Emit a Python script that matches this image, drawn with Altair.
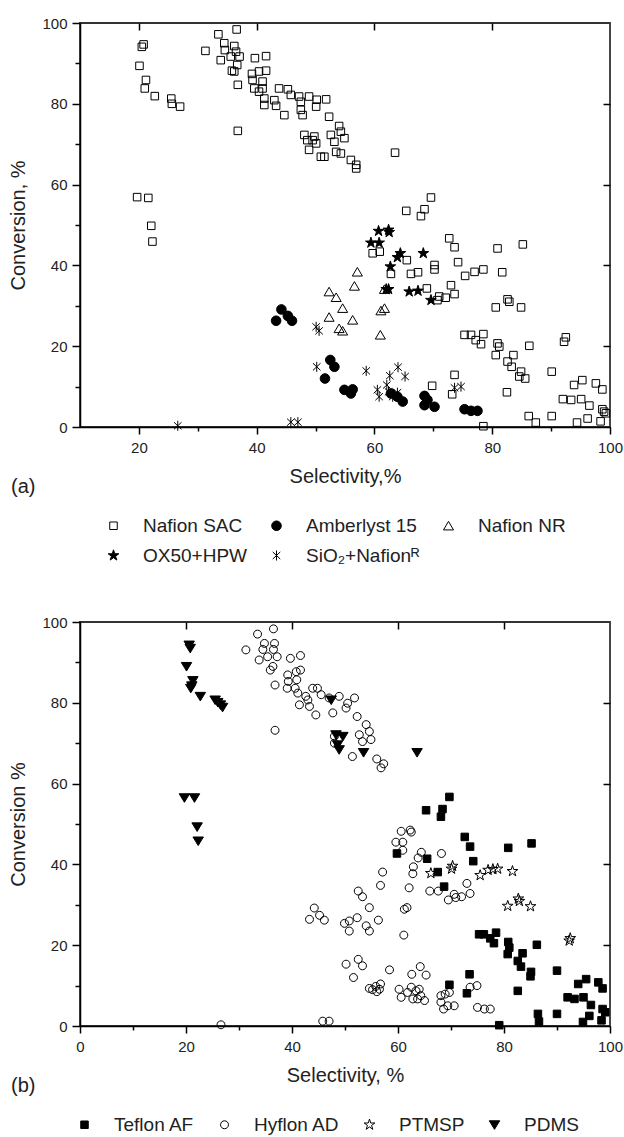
import altair as alt
import pandas as pd

FONT = "Liberation Sans"
TXT = "#222222"

# ---------------- panel (a) data ----------------
sac_x = [20.8, 20.5, 20.1, 21.2, 21.0, 22.7, 25.5, 25.6, 27.0, 19.7, 21.6, 22.1, 22.3,
         33.5, 36.6, 31.3, 34.5, 34.6, 36.2, 36.5, 33.9, 35.6, 37.1, 36.7, 35.8, 36.2, 36.8, 36.8,
         39.7, 41.6, 39.2, 39.3, 40.4, 41.6, 41.0, 39.6, 40.4, 41.0, 41.3, 41.3, 43.0, 43.3, 44.7,
         43.8, 45.3, 45.8, 47.2, 47.5, 47.5, 47.8, 48.9, 50.1, 50.2, 48.1, 48.6, 49.5, 48.9, 49.8,
         50.9, 51.8, 52.3, 54.0, 54.3, 54.9, 52.6, 53.2, 53.5, 54.3, 51.5, 50.1, 56.0, 56.9, 56.9,
         63.5, 69.6, 65.4, 68.5, 67.9, 72.7, 73.6, 80.9, 85.2, 74.2, 59.7, 60.9, 65.5, 70.2, 70.2,
         62.8, 66.2, 67.4, 75.4, 77.0, 78.5, 81.7, 68.9, 73.0, 73.6, 70.7, 72.1, 71.0, 82.6, 82.9,
         80.6, 84.9, 75.3, 76.4, 78.5, 77.2, 78.1, 80.9, 81.2, 80.6, 82.6, 83.3, 83.6, 84.9, 85.6,
         84.6, 86.3, 92.5, 92.2, 90.1, 73.6, 69.8, 73.2, 82.5, 93.9, 95.3, 97.6, 98.7, 92.0, 93.4,
         95.1, 96.5, 98.7, 99.0, 86.2, 87.4, 90.1, 94.4, 96.2, 98.4, 99.3, 78.5]
sac_y = [94.7, 94.1, 89.4, 85.9, 83.8, 81.9, 81.3, 80.0, 79.3, 56.9, 56.7, 49.8, 45.9,
         97.2, 98.4, 93.1, 95.0, 93.3, 94.3, 92.9, 90.8, 91.7, 91.7, 89.6, 88.2, 88.0, 84.7, 73.3,
         91.3, 91.8, 87.4, 85.9, 88.0, 88.2, 85.5, 83.8, 83.0, 83.8, 81.3, 79.7, 80.9, 79.5, 77.2,
         83.8, 83.6, 82.2, 81.8, 80.5, 78.5, 77.2, 81.8, 79.3, 81.0, 72.3, 71.0, 71.0, 68.6, 71.9,
         66.9, 81.1, 76.8, 74.5, 73.1, 71.5, 72.3, 70.6, 68.1, 67.7, 66.9, 70.2, 66.1, 64.9, 64.0,
         67.9, 56.8, 53.5, 53.9, 52.2, 46.7, 44.5, 44.2, 45.2, 40.8, 43.0, 43.4, 41.3, 40.1, 39.0,
         37.9, 37.9, 38.3, 37.4, 38.4, 39.0, 38.3, 34.3, 35.1, 32.9, 31.4, 32.0, 32.3, 31.6, 31.0,
         29.6, 29.6, 22.8, 22.8, 23.0, 21.5, 20.5, 20.7, 19.9, 17.8, 16.2, 14.9, 17.8, 13.7, 12.0,
         12.5, 20.1, 22.2, 21.1, 13.7, 12.9, 10.2, 8.1, 8.6, 10.4, 11.6, 10.8, 9.3, 6.9, 6.7,
         6.9, 5.3, 4.4, 3.8, 2.7, 1.1, 2.7, 1.1, 2.1, 1.4, 3.4, 0.2]

amb_x = [43.3, 44.2, 45.3, 46.0, 52.5, 53.2, 51.6, 54.9, 56.3, 56.0, 62.8, 63.9, 64.8,
         68.5, 69.0, 68.5, 70.2, 75.3, 76.4, 77.5]
amb_y = [26.3, 29.1, 27.5, 26.3, 16.6, 14.9, 12.0, 9.2, 9.3, 8.3, 8.3, 7.5, 6.3,
         7.7, 6.7, 5.4, 5.0, 4.4, 4.0, 4.0]

nr_x = [57.1, 56.6, 52.3, 53.5, 54.6, 52.3, 56.3, 54.0, 54.6, 61.0, 61.7, 61.1, 61.7]
nr_y = [38.4, 34.9, 33.5, 32.1, 29.4, 27.2, 26.5, 24.4, 23.8, 22.8, 29.4, 28.8, 34.1]

ox_x = [60.7, 62.4, 62.5, 59.4, 60.8, 64.4, 63.9, 68.3, 62.7, 62.0, 62.4, 65.9, 67.4, 69.6]
ox_y = [48.5, 48.8, 48.2, 45.6, 45.6, 43.0, 42.0, 43.0, 39.7, 34.1, 34.1, 33.5, 33.7, 31.4]

sio_x = [26.6, 45.8, 47.0, 50.1, 50.6, 50.2, 58.6, 64.0, 62.6, 65.2, 60.5, 60.8, 62.4,
         63.1, 63.9, 62.1, 73.6, 74.7]
sio_y = [0.3, 1.2, 1.2, 24.8, 23.8, 14.9, 13.9, 14.8, 12.7, 12.5, 9.2, 7.5, 8.7,
         7.5, 8.5, 10.4, 9.7, 10.0]

series_a = ["Nafion SAC", "Amberlyst 15", "Nafion NR", "OX50+HPW", "SiO\u2082+Nafion\u1d3f"]

# ---------------- panel (b) data ----------------
tef_x = [69.7, 65.3, 68.4, 68.1, 72.6, 73.6, 80.8, 85.2, 74.2, 59.8, 65.5, 67.5, 68.7,
         75.3, 76.2, 78.5, 77.4, 78.1, 80.8, 81.0, 80.7, 82.6, 83.5, 83.2, 85.1, 85.0, 86.2,
         90.0, 73.5, 69.7, 73.0, 82.6, 94.0, 95.5, 97.8, 98.6, 92.0, 93.3, 95.0, 96.4, 98.6,
         99.1, 86.4, 90.0, 96.1, 86.6, 94.9, 98.4, 79.1]
tef_y = [56.7, 53.4, 53.7, 51.8, 46.8, 44.4, 44.1, 45.2, 40.8, 42.7, 41.4, 38.1, 34.5,
         22.7, 22.7, 23.1, 21.7, 20.5, 20.8, 19.4, 17.8, 16.1, 18.0, 14.7, 13.4, 12.3, 20.1,
         13.7, 12.8, 10.2, 8.1, 8.7, 10.4, 11.6, 10.8, 9.3, 7.1, 6.7, 7.1, 5.2, 4.2,
         3.4, 3.0, 3.0, 2.5, 1.1, 1.0, 1.4, 0.2]

hyf_x = [31.3, 33.5, 36.5, 34.8, 34.5, 36.7, 36.5, 33.8, 35.4, 37.2, 36.4, 35.9, 36.8, 36.8,
         39.7, 41.6, 39.2, 39.3, 40.8, 41.6, 40.9, 39.1, 40.6, 41.1, 41.4, 43.3, 44.5, 43.9,
         44.8, 42.6, 43.0, 45.5, 47.0, 48.9, 50.5, 51.8, 50.2, 47.7, 52.3, 54.0, 54.6, 52.7,
         54.9, 53.3, 48.0, 48.0, 51.4, 56.0, 57.3, 56.8,
         43.3, 44.2, 45.2, 46.1, 52.5, 53.3, 57.1, 56.7, 54.6, 49.9, 50.8, 52.3, 50.8, 54.0,
         54.6, 56.3, 61.1, 61.2, 61.7, 62.1, 62.9, 62.8, 60.6, 62.3, 62.5, 59.6, 60.9, 60.9,
         64.4, 63.8, 68.2, 66.0, 67.6, 69.5, 70.9, 72.0, 73.0, 73.6, 70.6,
         50.2, 52.5, 53.3, 51.6, 58.4, 54.6, 55.8, 56.5, 55.2, 56.7, 56.0, 62.6, 64.2, 65.3,
         60.2, 60.6, 62.5, 61.8, 63.4, 64.0, 64.3, 65.0, 62.8, 63.7, 68.1, 68.9, 69.7, 68.1,
         69.4, 70.6, 68.6, 73.6, 74.9, 75.0, 76.3, 77.4, 26.6, 45.8, 47.0]
hyf_y = [93.1, 97.0, 98.3, 94.7, 93.2, 94.7, 93.2, 90.6, 91.4, 91.4, 89.0, 88.1, 84.4, 73.2,
         91.0, 91.7, 86.9, 85.3, 87.7, 88.1, 85.7, 83.6, 83.6, 82.4, 79.5, 79.1, 77.0, 83.6,
         83.6, 81.6, 80.7, 82.0, 81.2, 81.6, 79.9, 81.2, 78.7, 77.5, 76.6, 74.6, 72.9, 72.1,
         70.9, 70.4, 71.7, 70.0, 66.7, 66.1, 64.9, 63.9,
         26.4, 29.2, 27.4, 26.2, 33.4, 32.0, 38.1, 34.8, 29.3, 25.4, 26.0, 26.8, 23.5, 24.8,
         23.5, 26.2, 22.5, 28.9, 29.3, 34.2, 39.4, 37.7, 48.2, 48.5, 48.0, 45.5, 45.5, 43.5,
         43.0, 41.6, 42.7, 33.4, 33.4, 31.2, 31.8, 32.0, 35.3, 32.8, 32.6,
         15.3, 16.5, 14.9, 12.0, 13.9, 9.3, 9.8, 9.1, 9.0, 10.4, 8.5, 12.8, 14.7, 12.6,
         9.1, 7.1, 9.6, 8.3, 8.7, 9.1, 7.5, 6.3, 6.7, 6.7, 7.5, 7.9, 8.3, 5.9,
         5.0, 5.0, 4.2, 9.6, 10.0, 4.6, 4.2, 4.2, 0.3, 1.2, 1.2]

ptm_x = [66.2, 70.3, 70.1, 75.5, 77.0, 77.9, 78.8, 81.6, 80.7, 82.7, 82.9, 85.0, 92.5, 92.3]
ptm_y = [37.8, 39.6, 38.9, 37.3, 38.6, 38.8, 38.9, 38.3, 29.7, 31.5, 30.9, 29.6, 21.7, 21.1]

pdms_x = [20.6, 20.8, 20.1, 21.3, 21.1, 20.9, 22.7, 25.5, 26.0, 26.5, 26.9, 19.7, 21.6,
          22.1, 22.3, 47.4, 48.3, 49.6, 48.9, 48.6, 53.5, 63.6]
pdms_y = [94.3, 93.5, 89.0, 85.5, 84.2, 83.6, 81.6, 80.7, 80.1, 79.5, 78.9, 56.5, 56.5,
          49.3, 45.8, 80.7, 72.1, 71.7, 68.4, 69.6, 67.7, 67.7]

series_b = ["Teflon AF", "Hyflon AD", "PTMSP", "PDMS"]

# axis tick values
y_ticks = [0, 10, 20, 30, 40, 50, 60, 70, 80, 90, 100]
y_major_inner = [20, 40, 60, 80]
xa_ticks = [20, 30, 40, 50, 60, 70, 80, 90, 100]
xb_ticks = [0, 10, 20, 30, 40, 50, 60, 70, 80, 90, 100]
x_major_inner = [20, 40, 60, 80]

# symbol paths (normalised box, scaled by mark size)
SQUARE = "M-0.9,-0.9L0.9,-0.9L0.9,0.9L-0.9,0.9Z"
CIRC_BIG = "M-1.15,0A1.15,1.15,0,1,0,1.15,0A1.15,1.15,0,1,0,-1.15,0Z"
CIRC_SMALL = "M-0.95,0A0.95,0.95,0,1,0,0.95,0A0.95,0.95,0,1,0,-0.95,0Z"
STAR = ("M0,-1.35L0.303,-0.417L1.284,-0.417L0.49,0.159L0.794,1.092L0,0.516"
        "L-0.794,1.092L-0.49,0.159L-1.284,-0.417L-0.303,-0.417Z")
ASTER = "M0,-1.2L0,1.2M-0.9,-0.85L0.9,0.85M-0.9,0.85L0.9,-0.85"
TRI_UP = "M0,-1.05L1.2,1L-1.2,1Z"
TRI_DOWN = "M-1.25,-0.95L1.25,-0.95L0,1.1Z"


def make_df(groups):
    rows = []
    for name, xs, ys in groups:
        for xv, yv in zip(xs, ys):
            rows.append({"series": name, "x": xv, "y": yv})
    return pd.DataFrame(rows)


df_a = make_df([(series_a[0], sac_x, sac_y), (series_a[1], amb_x, amb_y),
                (series_a[2], nr_x, nr_y), (series_a[3], ox_x, ox_y),
                (series_a[4], sio_x, sio_y)])
df_b = make_df([(series_b[0], tef_x, tef_y), (series_b[1], hyf_x, hyf_y),
                (series_b[2], ptm_x, ptm_y), (series_b[3], pdms_x, pdms_y)])


def panel(df, order, shapes, fills, xdom, xticks, xtitle, ytitle, tag, ncols,
          leg_x, col_pad, lab_off):
    xscale = alt.Scale(domain=xdom, nice=False, zero=False)
    yscale = alt.Scale(domain=[0, 100], nice=False, zero=False)
    leg = alt.Legend(title=None, orient="none", legendX=leg_x, legendY=493,
                     direction="horizontal", columns=ncols, columnPadding=col_pad,
                     rowPadding=10, labelOffset=lab_off, symbolSize=70,
                     symbolStrokeColor="black", symbolStrokeWidth=1,
                     labelFontSize=19, labelFont=FONT, labelColor=TXT, labelLimit=0,
                     padding=0)
    pts = alt.Chart(df).mark_point(size=70, strokeWidth=1, opacity=1).encode(
        x=alt.X("x:Q", scale=xscale, axis=alt.Axis(
            orient="bottom", title=xtitle, values=xticks, labelFlush=False,
            labelExpr="datum.value % 20 === 0 ? datum.label : ''",
            tickSize={"condition": {"test": "datum.value % 20 === 0", "value": 7},
                      "value": 4},
            labelPadding=6, titlePadding=11)),
        y=alt.Y("y:Q", scale=yscale, axis=alt.Axis(
            orient="left", title=ytitle, values=y_ticks, labelFlush=False,
            labelExpr="datum.value % 20 === 0 ? datum.label : ''",
            tickSize={"condition": {"test": "datum.value % 20 === 0", "value": 8},
                      "value": 5},
            labelPadding=5, titlePadding=13)),
        shape=alt.Shape("series:N", scale=alt.Scale(domain=order, range=shapes),
                        legend=leg),
        fill=alt.Fill("series:N", scale=alt.Scale(domain=order, range=fills),
                      legend=leg),
        stroke=alt.Stroke("series:N",
                          scale=alt.Scale(domain=order, range=["black"] * len(order)),
                          legend=leg),
    )
    frame = alt.Chart(df).mark_point(opacity=0).encode(
        x=alt.X("x:Q", scale=xscale, axis=alt.Axis(
            orient="top", title=None, values=x_major_inner, labels=False,
            domain=False, tickSize=7, offset=-7)),
        y=alt.Y("y:Q", scale=yscale, axis=alt.Axis(
            orient="right", title=None, values=y_major_inner, labels=False,
            domain=False, tickSize=7, offset=-7)),
    )
    label = alt.Chart(pd.DataFrame({"t": [tag]})).mark_text(
        align="left", baseline="middle", fontSize=20, font=FONT, color=TXT
    ).encode(text="t:N", x=alt.value(-69), y=alt.value(464))
    return alt.layer(pts, frame, label).resolve_axis(
        x="independent", y="independent").properties(width=530, height=404)


top = panel(df_a, series_a, [SQUARE, CIRC_BIG, TRI_UP, STAR, ASTER],
            ["transparent", "black", "transparent", "black", "transparent"],
            [10, 100], xa_ticks, "Selectivity,%", "Conversion, %", "(a)", 3,
            24, 19, 20)
bottom = panel(df_b, series_b, [SQUARE, CIRC_SMALL, STAR, TRI_DOWN],
               ["black", "transparent", "transparent", "black"],
               [0, 100], xb_ticks, "Selectivity, %", "Conversion %", "(b)", 4,
               -5, 20, 20)

chart = alt.vconcat(top, bottom, spacing=47).resolve_scale(
    x="independent", y="independent", shape="independent", fill="independent",
    stroke="independent"
).resolve_legend(shape="independent", fill="independent",
                 stroke="independent").properties(
    padding={"left": 8, "top": 15, "right": 0, "bottom": 0}
).configure(font=FONT).configure_axis(
    labelFont=FONT, titleFont=FONT, labelFontSize=15, titleFontSize=20,
    titleFontWeight="normal", labelColor=TXT, titleColor=TXT,
    domainColor="black", tickColor="black", domainWidth=1.5, tickWidth=1.5,
    grid=False
).configure_view(stroke="#333333", strokeWidth=1.8)

chart.save("out.html", embed_options={"renderer": "svg", "actions": False})
